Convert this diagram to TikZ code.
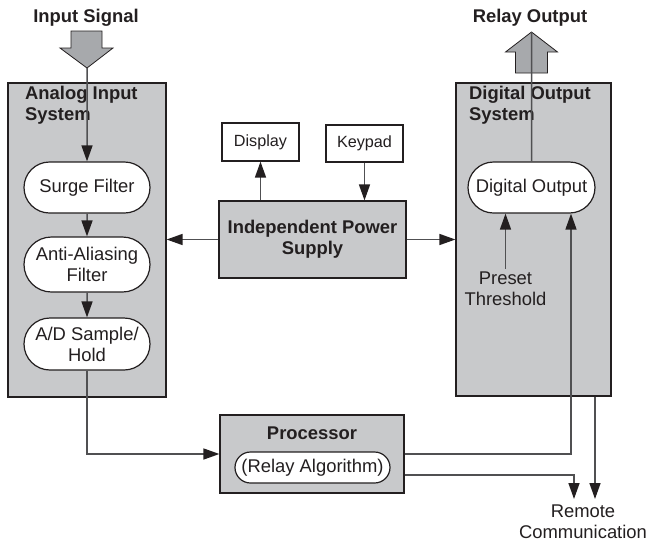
\documentclass[tikz,border=0pt]{standalone}
\usepackage{fontspec}
\setmainfont{Liberation Sans}
\usetikzlibrary{arrows.meta,shapes.misc}
\definecolor{panelgray}{HTML}{C8C9CB}
\definecolor{arrowgray}{HTML}{A7A9AC}
\definecolor{wiregray}{HTML}{505052}
\definecolor{inkblack}{HTML}{231F20}
\newcommand\MainSize{\fontsize{18.4}{21}\selectfont}
\newcommand\BoxSize{\fontsize{16.2}{19}\selectfont}
\tikzset{
  panel/.style={draw=inkblack, fill=panelgray, line width=1.2pt, inner sep=0pt},
  panel title/.style={font=\MainSize\bfseries, text=inkblack, align=left,
    anchor=north west, inner sep=0pt},
  stage/.style={rounded rectangle, draw=inkblack, fill=white, line width=1.2pt,
    font=\MainSize, text=inkblack, align=center, minimum width=130pt, inner sep=2pt},
  unit/.style={draw=inkblack, fill=panelgray, line width=1.2pt, font=\MainSize\bfseries,
    text=inkblack, align=center},
  small box/.style={draw=inkblack, fill=white, line width=1.2pt, font=\BoxSize,
    text=inkblack},
  caption/.style={font=\MainSize, text=inkblack, align=center},
  block arrow/.style={draw=inkblack, fill=arrowgray, line width=0.8pt},
  wire/.style={draw=wiregray, line width=1.5pt}
}

\begin{document}
\begin{tikzpicture}[x=1pt, y=-1pt,
  >={Triangle[length=16pt, width=11pt, color=inkblack]}]
  \useasboundingbox (0,0) rectangle (649,542);

  % Wide arrows for the signal coming in and the relay going out
  \coordinate (sigTip) at (87,68);
  \coordinate (relTip) at (531.5,32);
  \draw[block arrow] (sigTip) -- ++(26,-20) -- ++(-11,0) -- ++(0,-17) -- ++(-31,0)
    -- ++(0,17) -- ++(-11,0) -- cycle;
  \draw[block arrow] (relTip) -- ++(26,20) -- ++(-10,0) -- ++(0,21) -- ++(-32,0)
    -- ++(0,-21) -- ++(-10,0) -- cycle;
  \node[caption, font=\MainSize\bfseries] (sigLbl) at (86,18) {Input Signal};
  \node[caption, font=\MainSize\bfseries] (relLbl) at (530,18) {Relay Output};

  % Subsystem panels
  \node[panel, minimum width=158pt, minimum height=314pt] (analog) at (87,240) {};
  \node[panel, minimum width=155pt, minimum height=313pt] (digital) at (533.5,239.5) {};
  \node[panel title] (analogTitle) at (25,86) {Analog Input\\System};
  \node[panel title] (digitalTitle) at (469,86) {Digital Output\\System};

  % Stages inside the panels
  \node[stage, minimum height=51pt] (surge) at (87,187.5) {Surge Filter};
  \node[stage, minimum height=55pt] (alias) at (87,264.5) {Anti-Aliasing\\Filter};
  \node[stage, minimum height=52pt] (adc) at (87,344) {A/D Sample/\\Hold};
  \node[stage, minimum width=131pt, minimum height=51pt] (dout) at (531.5,187.5) {Digital Output};
  \node[caption] (preset) at (505.5,289) {Preset\\Threshold};

  % Power supply, front panel and processor
  \node[unit, minimum width=187pt, minimum height=77pt] (power) at (312.5,239.5) {Independent Power\\Supply};
  \node[small box, minimum width=77pt, minimum height=38pt] (display) at (260.5,142) {Display};
  \node[small box, minimum width=77pt, minimum height=37pt] (keypad) at (364.5,143.5) {Keypad};
  \node[unit, minimum width=184pt, minimum height=78pt] (proc) at (312,454) {};
  \node[caption, font=\MainSize\bfseries] (procTitle) at (312,433) {Processor};
  \node[stage, minimum width=159pt, minimum height=31pt] (algo) at (312.5,467.5) {(Relay Algorithm)};

  % Remote link
  \coordinate (rcA) at (574,499);
  \coordinate (rcB) at (595,499);
  \node[caption] (remote) at (583,522) {Remote\\Communication};

  % Connections
  \draw[wire, ->] (sigTip) -- (surge);
  \draw[wire, ->] (surge) -- (alias);
  \draw[wire, ->] (alias) -- (adc);
  \draw[wire, ->] (adc) |- (proc);
  \draw[wire] (dout) -- (relTip);
  \draw[wire, ->] (power) -- (power -| analog.east);
  \draw[wire, ->] (power) -- (power -| digital.west);
  \draw[wire, ->] (power.north -| display) -- (display);
  \draw[wire, ->] (keypad) -- (keypad |- power.north);
  \draw[wire, ->] (preset) -- (preset |- dout.south);
  \draw[wire, ->] (proc.east) -| ([xshift=39.5pt]dout.south);
  \draw[wire, ->] ([yshift=-21pt]proc.east) -| (rcA);
  \draw[wire, ->] (digital.south -| rcB) -- (rcB);
\end{tikzpicture}
\end{document}
